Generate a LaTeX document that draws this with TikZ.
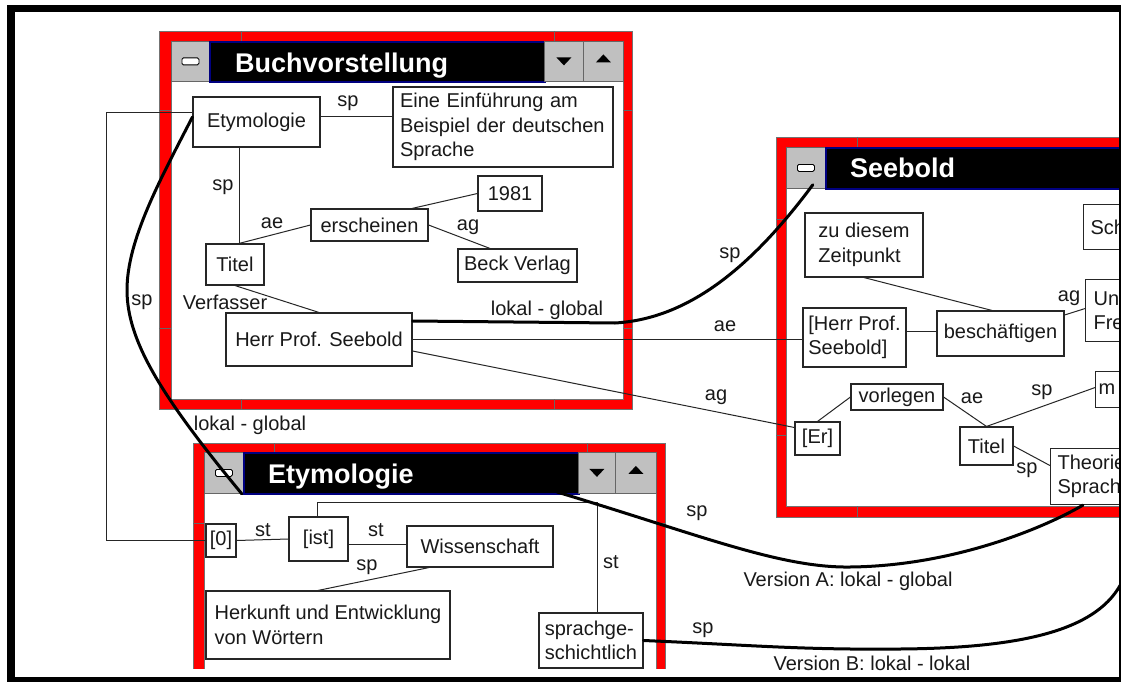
\documentclass[tikz,border=0pt]{standalone}
\usepackage{fontspec}
\setmainfont{Liberation Sans}
\usetikzlibrary{calc}
\definecolor{winred}{RGB}{255,0,0}
\definecolor{btngray}{RGB}{192,192,192}
\definecolor{navyb}{RGB}{0,0,128}
\newcommand{\mybox}[6]{\node[box, minimum width={#4pt-#2pt}, minimum height={#5pt-#3pt}] (#1) at ({(#2+#4)/2},{(#3+#5)/2}) {#6};}
\newcommand{\dntri}[1]{\fill ($(#1.center)+(-7.5,-4)$) -- ($(#1.center)+(7.5,-4)$) -- ($(#1.center)+(0,4)$) -- cycle;}
\newcommand{\uptri}[1]{\fill ($(#1.center)+(-7.5,1)$) -- ($(#1.center)+(7.5,1)$) -- ($(#1.center)+(0,-7)$) -- cycle;}
\begin{document}
\begin{tikzpicture}[x=1pt,y=-1pt,
  box/.style={draw=black!85, line width=1.1pt, fill=white, inner sep=0pt, font=\fontsize{20}{24.5}\selectfont, align=left, text=black!90},
  conn/.style={black!85, line width=1pt},
  heavy/.style={black, line width=3pt, line cap=round, line join=round},
  lbl/.style={font=\fontsize{20}{24}\selectfont, inner sep=0pt, text=black!90},
  ttl/.style={font=\fontsize{27}{30}\selectfont\bfseries, text=white, inner sep=0pt, anchor=base west},
  btn/.style={draw=black!60, fill=btngray, line width=0.8pt, inner sep=0pt, anchor=north west},
  tbar/.style={draw=navyb, fill=black, line width=2pt, inner sep=0pt, anchor=north west},
  mini/.style={draw=black, fill=white, rounded corners=1.5pt, minimum width=17pt, minimum height=7pt, inner sep=0pt, line width=0.8pt},
  wframe/.style={fill=winred, draw=black!55, line width=0.7pt},
  wbody/.style={fill=white, draw=black!55, line width=0.7pt},
  tick/.style={black!60, line width=0.8pt}]
\useasboundingbox (0,0) rectangle (1121,682);
\fill[white] (0,0) rectangle (1121,682);
\begin{scope}
\clip (15,12) rectangle (1119,677);
% ---------- window 1: Buchvorstellung
\path[wframe] (159,31) rectangle (632,409);
\path[wbody] (171,81) rectangle (623,399);
\draw[tick] (241,31)--(241,41) (554,31)--(554,41) (241,399)--(241,409) (554,399)--(554,409)
  (159,110)--(171,110) (159,328)--(171,328) (623,110)--(632,110) (623,328)--(632,328);
\node[btn, minimum width=38pt, minimum height=40pt] (w1min) at (171,41) {};
\node[mini] (w1mini) at (w1min.center) {};
\node[tbar, minimum width=335pt, minimum height=40pt] (w1bar) at (209,41) {};
\node[ttl] (w1ttl) at (235,73) {Buchvorstellung};
\node[btn, minimum width=39pt, minimum height=40pt] (w1dn) at (544,41) {};
\node[btn, minimum width=40pt, minimum height=40pt] (w1up) at (583,41) {};
\dntri{w1dn}
\uptri{w1up}
% ---------- window 2: Seebold
\path[wframe] (776,137) rectangle (1135,517);
\path[wbody] (786,188) rectangle (1135,506);
\draw[tick] (857,137)--(857,147) (857,506)--(857,517) (776,219)--(786,219) (776,435)--(786,435);
\node[btn, minimum width=39pt, minimum height=41pt] (seebmin) at (786,147) {};
\node[mini] (w2mini) at (seebmin.center) {};
\node[tbar, minimum width=310pt, minimum height=41pt] (w2bar) at (825,147) {};
\node[ttl] (w2ttl) at (850,177) {Seebold};
% ---------- window 3: Etymologie
\begin{scope}
\clip (0,0) rectangle (1121,668);
\path[wframe] (193,443) rectangle (665,700);
\path[wbody] (204,493) rectangle (656,700);
\draw[tick] (274,443)--(274,452) (587,443)--(587,452) (193,523)--(204,523) (656,523)--(665,523);
\node[btn, minimum width=39pt, minimum height=41pt] (w3min) at (204,452) {};
\node[mini] (w3mini) at (w3min.center) {};
\node[tbar, minimum width=335pt, minimum height=41pt] (w3bar) at (243,452) {};
\node[ttl] (w3ttl) at (268,483) {Etymologie};
\node[btn, minimum width=37pt, minimum height=41pt] (w3dn) at (578,452) {};
\node[btn, minimum width=41pt, minimum height=41pt] (w3up) at (615,452) {};
\dntri{w3dn}
\uptri{w3up}
\end{scope}
% ---------- boxes window 1
\mybox{ety}{193}{97}{320}{147}{Etymologie}
\node[box, minimum width=220pt, minimum height=80pt, text width=206pt] (eine) at (503,127) {Eine Einführung am\\Beispiel der deutschen\\Sprache};
\mybox{titel}{206}{244}{264}{285}{Titel}
\mybox{ersch}{311}{209}{428}{241}{erscheinen}
\mybox{jahr}{478}{176}{542}{211}{1981}
\mybox{beck}{458}{249}{577}{282}{Beck Verlag}
\mybox{herr}{226}{313}{412}{366}{Herr Prof. Seebold}
% ---------- boxes window 2
\mybox{zu}{805}{213}{923}{277}{zu diesem\\Zeitpunkt}
\mybox{herrB}{803}{308}{906}{367}{[Herr Prof.\\Seebold]}
\mybox{besch}{937}{311}{1064}{356}{beschäftigen}
\mybox{vorl}{851}{384}{943}{410}{vorlegen}
\mybox{er}{795}{422}{840}{455}{[Er]}
\mybox{titelB}{960}{427}{1013}{465}{Titel}
\node[box, anchor=north west, minimum height=45pt, text width=60pt, inner xsep=7pt] (sch) at (1083,204) {Sch};
\node[box, anchor=north west, minimum height=62pt, text width=60pt, inner xsep=8pt] (un) at (1085,279) {Un\\Fre};
\node[box, anchor=north west, minimum height=36pt, text width=60pt, inner xsep=3pt] (mm) at (1095,371) {m};
\node[box, anchor=north west, minimum height=56pt, text width=70pt, inner xsep=7pt] (theo) at (1050,448) {Theorie\\Sprach};
% ---------- boxes window 3
\mybox{zero}{206}{524}{236}{557}{[0]}
\mybox{ist}{289}{517}{348}{561}{[ist]}
\mybox{wiss}{407}{526}{553}{567}{Wissenschaft}
\mybox{herk}{206}{591}{450}{659}{Herkunft und Entwicklung\\von Wörtern}
\mybox{sprach}{539}{613}{643}{668}{sprachge-\\schichtlich}
% ---------- thin connectors
\draw[conn] ([yshift=5pt]ety.east) -- ([yshift=10pt]eine.west);
\draw[conn] ([xshift=-17.5pt]ety.south) -- ([xshift=4pt]titel.north);
\draw[conn] ([xshift=4pt]titel.north) -- (ersch.west);
\draw[conn] ([xshift=42.5pt]ersch.north) -- (jahr.west);
\draw[conn] (ersch.east) -- ([xshift=-27.5pt]beck.north);
\draw[conn] (titel.south) -- (herr.north);
\draw[conn] (herr.east) -- (herr.east -| herrB.west);
\draw[conn] ([yshift=-11.5pt]herr.east) -- ([yshift=11pt]er.west);
\draw[conn] (zu.south) -- ([xshift=-8.5pt]besch.north);
\draw[conn] ([yshift=6.5pt]herrB.east) -- ([yshift=2.5pt]besch.west);
\draw[conn] ([yshift=18.5pt]besch.east) -- ([yshift=2pt]un.west);
\draw[conn] (er.north) -- (vorl.west);
\draw[conn] (vorl.east) -- (titelB.north);
\draw[conn] (titelB.north) -- ([yshift=2pt]mm.west);
\draw[conn] (titelB.east) -- ([yshift=11pt]theo.west);
\draw[conn] (zero.east) -- (ist.west);
\draw[conn] ([yshift=-5pt]ist.east) -- ([yshift=2.5pt]wiss.west);
\draw[conn] ([xshift=-51pt]wiss.south) -- ([xshift=-10pt]herk.north);
\draw[conn] ([xshift=-1.5pt]ist.north) -- ++(0,-14) -| ([xshift=6pt]sprach.north);
\draw[conn] (zero.west) -- ++(-99,0) |- ([yshift=9pt]ety.west);
% ---------- thick connectors
\draw[heavy] ([yshift=18.5pt]herr.east) -- (615,323) .. controls (685,319) and (748,272) .. ([xshift=-13pt,yshift=4pt]seebmin.south east);
\draw[heavy] ([yshift=5pt]ety.west) .. controls (160,180) and (127,240) .. (127,290) .. controls (127,340) and (160,395) .. ([xshift=-2pt]w3min.south east);
\draw[heavy] ([xshift=-23pt,yshift=3pt]w3bar.south east) .. controls (700,535) and (780,568) .. (850,567) .. controls (950,566) and (1040,530) .. ([xshift=33pt]theo.south west);
\coordinate (bend) at (1125,575);
\draw[heavy] (sprach.east) .. controls (750,645) and (800,650) .. (900,649) .. controls (1030,648) and (1105,628) .. (bend);
% ---------- labels
\node[lbl] (l1) at (348,103) {sp};
\node[lbl] (l2) at (223,187) {sp};
\node[lbl] (l3) at (272,223) {ae};
\node[lbl] (l4) at (468,227) {ag};
\node[lbl] (l5) at (225,302) {Verfasser};
\node[lbl] (l6) at (547,310) {lokal - global};
\node[lbl] (l7) at (725,326) {ae};
\node[lbl] (l8) at (716,397) {ag};
\node[lbl] (l9) at (730,255) {sp};
\node[lbl] (l10) at (142,302) {sp};
\node[lbl] (l11) at (250,425) {lokal - global};
\node[lbl] (l12) at (1069,298) {ag};
\node[lbl] (l13) at (972,398) {ae};
\node[lbl] (l14) at (1042,392) {sp};
\node[lbl] (l15) at (1027,470) {sp};
\node[lbl] (l16) at (263,530) {st};
\node[lbl] (l17) at (376,530) {st};
\node[lbl] (l18) at (367,567) {sp};
\node[lbl] (l19) at (611,562) {st};
\node[lbl] (l20) at (697,513) {sp};
\node[lbl] (l21) at (848,581) {Version A: lokal - global};
\node[lbl] (l22) at (703,630) {sp};
\node[lbl] (l23) at (872,663) {Version B: lokal - lokal};
\end{scope}
% ---------- outer frame
\fill[black] (7,5) rectangle (15,682);
\fill[black] (7,5) rectangle (1121,12);
\fill[black] (7,677) rectangle (1121,682);
\fill[black] (1119,5) rectangle (1121,682);
\end{tikzpicture}
\end{document}
